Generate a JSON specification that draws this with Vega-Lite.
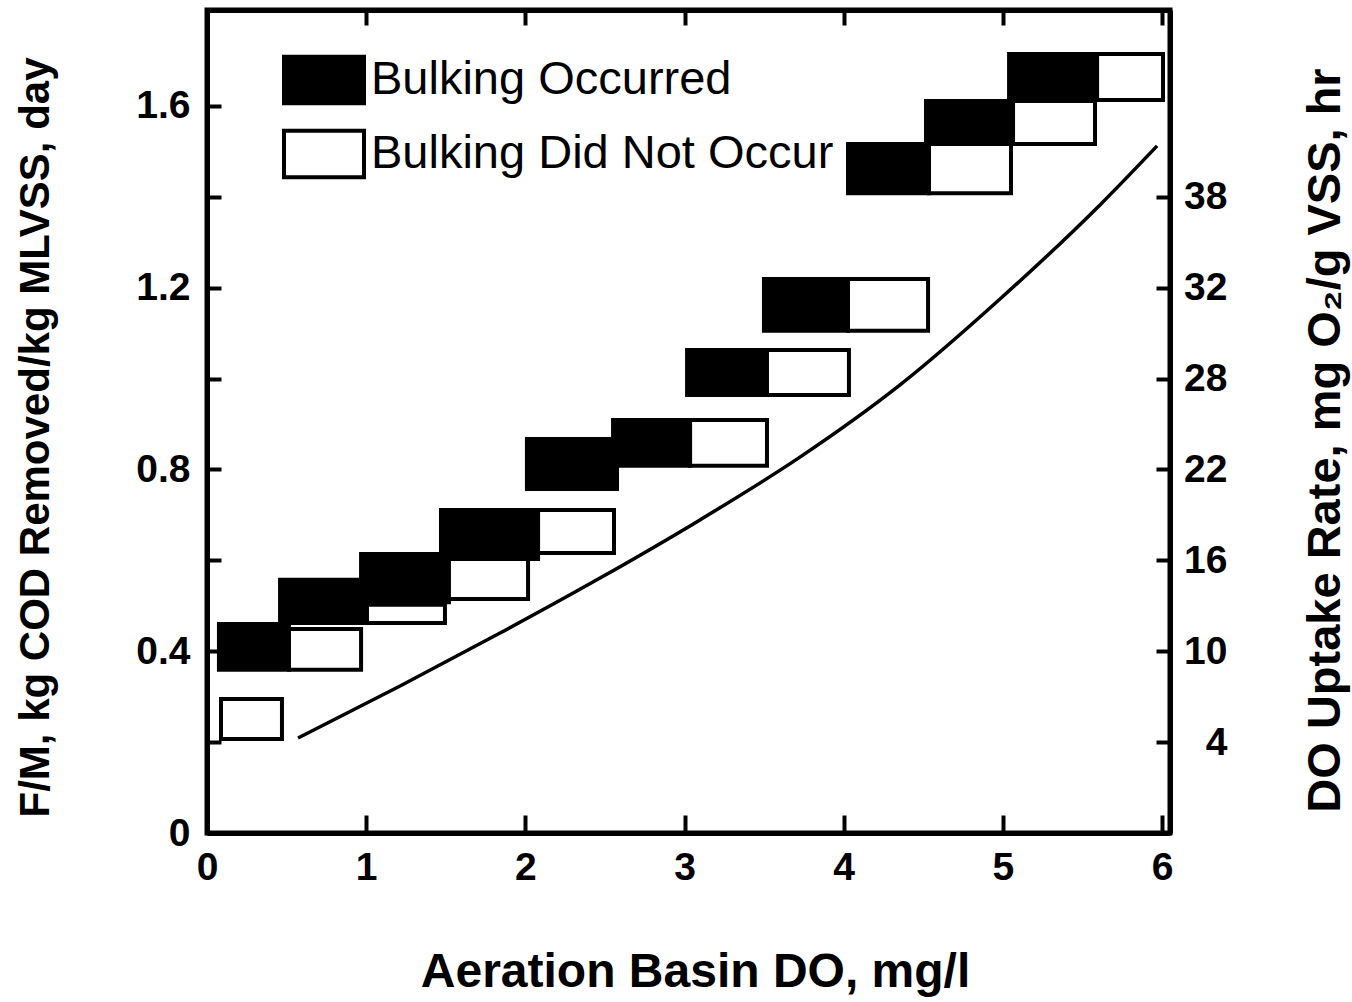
{
  "$schema": "https://vega.github.io/schema/vega-lite/v6.json",
  "width": 963,
  "height": 823,
  "autosize": {"type": "none"},
  "padding": {"left": 207, "top": 10, "right": 182, "bottom": 169},
  "background": "white",
  "config": {
    "view": {"stroke": "black", "strokeWidth": 5},
    "axis": {
      "domainColor": "black", "domainWidth": 5, "tickColor": "black", "tickWidth": 4, "grid": false,
      "labelFont": "Liberation Sans", "labelFontWeight": "bold", "labelFontSize": 39, "labelColor": "black",
      "labelOverlap": false, "labelFlush": false,
      "titleFont": "Liberation Sans", "titleFontWeight": "bold", "titleColor": "black"
    }
  },
  "datasets": {
    "boxes": [
      {"pair": "A", "status": "Bulking Did Not Occur", "x0": 0.088, "x1": 0.471, "y0": 0.207, "y1": 0.295},
      {"pair": "B", "status": "Bulking Occurred", "x0": 0.075, "x1": 0.515, "y0": 0.359, "y1": 0.460},
      {"pair": "B", "status": "Bulking Did Not Occur", "x0": 0.515, "x1": 0.968, "y0": 0.359, "y1": 0.449},
      {"pair": "C", "status": "Bulking Occurred", "x0": 0.459, "x1": 1.005, "y0": 0.462, "y1": 0.557},
      {"pair": "C", "status": "Bulking Did Not Occur", "x0": 1.005, "x1": 1.495, "y0": 0.462, "y1": 0.502},
      {"pair": "D", "status": "Bulking Occurred", "x0": 0.968, "x1": 1.520, "y0": 0.508, "y1": 0.614},
      {"pair": "D", "status": "Bulking Did Not Occur", "x0": 1.520, "x1": 2.017, "y0": 0.515, "y1": 0.603},
      {"pair": "E", "status": "Bulking Occurred", "x0": 1.470, "x1": 2.080, "y0": 0.603, "y1": 0.711},
      {"pair": "E", "status": "Bulking Did Not Occur", "x0": 2.080, "x1": 2.557, "y0": 0.616, "y1": 0.711},
      {"pair": "F", "status": "Bulking Occurred", "x0": 2.010, "x1": 2.576, "y0": 0.757, "y1": 0.867},
      {"pair": "G", "status": "Bulking Occurred", "x0": 2.551, "x1": 3.035, "y0": 0.808, "y1": 0.909},
      {"pair": "G", "status": "Bulking Did Not Occur", "x0": 3.035, "x1": 3.518, "y0": 0.808, "y1": 0.909},
      {"pair": "H", "status": "Bulking Occurred", "x0": 3.016, "x1": 3.518, "y0": 0.964, "y1": 1.063},
      {"pair": "H", "status": "Bulking Did Not Occur", "x0": 3.518, "x1": 4.033, "y0": 0.964, "y1": 1.063},
      {"pair": "I", "status": "Bulking Occurred", "x0": 3.499, "x1": 4.027, "y0": 1.105, "y1": 1.219},
      {"pair": "I", "status": "Bulking Did Not Occur", "x0": 4.027, "x1": 4.530, "y0": 1.105, "y1": 1.219},
      {"pair": "J", "status": "Bulking Occurred", "x0": 4.027, "x1": 4.536, "y0": 1.408, "y1": 1.516},
      {"pair": "J", "status": "Bulking Did Not Occur", "x0": 4.536, "x1": 5.051, "y0": 1.408, "y1": 1.516},
      {"pair": "K", "status": "Bulking Occurred", "x0": 4.517, "x1": 5.064, "y0": 1.516, "y1": 1.611},
      {"pair": "K", "status": "Bulking Did Not Occur", "x0": 5.064, "x1": 5.579, "y0": 1.516, "y1": 1.611},
      {"pair": "L", "status": "Bulking Occurred", "x0": 5.039, "x1": 5.592, "y0": 1.613, "y1": 1.714},
      {"pair": "L", "status": "Bulking Did Not Occur", "x0": 5.592, "x1": 6.006, "y0": 1.613, "y1": 1.714}
    ],
    "curve": [
      {"do": 0.572, "fm": 0.209},
      {"do": 1.213, "fm": 0.3235},
      {"do": 1.841, "fm": 0.440},
      {"do": 2.469, "fm": 0.561},
      {"do": 3.097, "fm": 0.689},
      {"do": 3.725, "fm": 0.827},
      {"do": 4.354, "fm": 0.986},
      {"do": 4.982, "fm": 1.175},
      {"do": 5.610, "fm": 1.382},
      {"do": 5.969, "fm": 1.512}
    ]
  },
  "layer": [
    {
      "data": {"name": "boxes"},
      "mark": {"type": "rect", "stroke": "black", "strokeWidth": 4},
      "encoding": {
        "x": {
          "field": "x0", "type": "quantitative",
          "scale": {"domain": [0, 6.05], "nice": false, "zero": false},
          "axis": {
            "orient": "bottom", "values": [0, 1, 2, 3, 4, 5, 6], "format": "d",
            "tickSize": -18, "labelPadding": 33,
            "title": "Aeration Basin DO, mg/l", "titleFontSize": 48,
            "titleX": 488, "titleY": 139, "titleBaseline": "middle", "titleAlign": "center"
          }
        },
        "x2": {"field": "x1"},
        "y": {
          "field": "y0", "type": "quantitative",
          "scale": {"domain": [0, 1.811], "nice": false, "zero": false},
          "axis": {
            "orient": "left", "values": [0, 0.2, 0.4, 0.6, 0.8, 1.0, 1.2, 1.4, 1.6],
            "labelExpr": "datum.value == 0 ? '0' : (datum.value == 0.4 || datum.value == 0.8 || datum.value == 1.2 || datum.value == 1.6) ? format(datum.value, '.1f') : ''",
            "tickSize": -14, "labelPadding": 31,
            "title": "F/M, kg COD Removed/kg MLVSS, day", "titleFontSize": 42,
            "titleAngle": 270, "titleX": -172, "titleY": 427, "titleBaseline": "middle", "titleAlign": "center"
          }
        },
        "y2": {"field": "y1"},
        "fill": {
          "field": "status", "type": "nominal",
          "scale": {"domain": ["Bulking Occurred", "Bulking Did Not Occur"], "range": ["black", "white"]},
          "legend": {
            "orient": "none", "legendX": 75, "legendY": 28, "title": null, "padding": 0,
            "symbolType": "M-1,-0.58H1V0.58H-1Z", "symbolSize": 6400,
            "symbolStrokeColor": "black", "symbolStrokeWidth": 4, "symbolOpacity": 1,
            "labelFont": "Liberation Sans", "labelFontSize": 47, "labelColor": "black",
            "labelOffset": 5, "labelLimit": 0, "rowPadding": 0
          }
        }
      }
    },
    {
      "data": {"name": "curve"},
      "mark": {"type": "line", "color": "black", "strokeWidth": 3.5, "interpolate": "monotone"},
      "encoding": {
        "x": {
          "field": "do", "type": "quantitative",
          "scale": {"domain": [0, 6.05], "nice": false, "zero": false},
          "axis": {"orient": "top", "values": [0, 1, 2, 3, 4, 5, 6], "labels": false, "tickSize": -15, "title": null}
        },
        "y": {
          "field": "fm", "type": "quantitative",
          "scale": {"domain": [0, 1.811], "nice": false, "zero": false},
          "axis": {
            "orient": "right", "values": [0.2, 0.4, 0.6, 0.8, 1.0, 1.2, 1.4],
            "labelExpr": "datum.value == 0.2 ? '4' : datum.value == 0.4 ? '10' : datum.value == 0.6 ? '16' : datum.value == 0.8 ? '22' : datum.value == 1.0 ? '28' : datum.value == 1.2 ? '32' : '38'",
            "tickSize": -14, "labelPadding": 71, "labelAlign": "right",
            "title": "DO Uptake Rate, mg O₂/g VSS, hr", "titleFontSize": 47,
            "titleAngle": 270, "titleX": 155, "titleY": 430, "titleBaseline": "middle", "titleAlign": "center"
          }
        }
      }
    }
  ],
  "resolve": {"scale": {"x": "independent", "y": "independent"}}
}
